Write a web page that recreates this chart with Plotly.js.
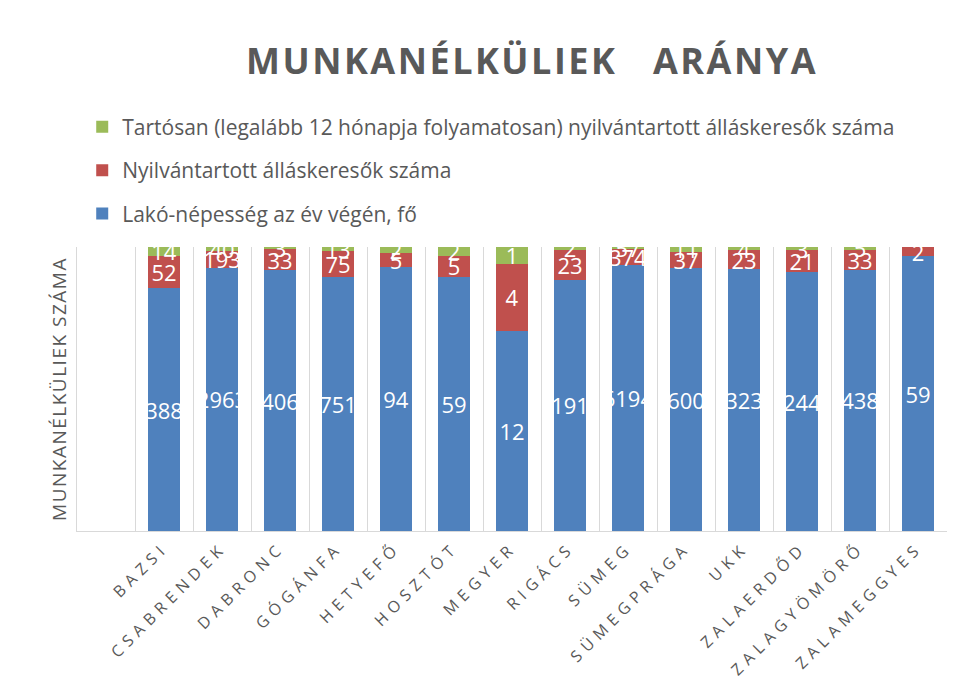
<!DOCTYPE html>
<html>
<head>
<meta charset="utf-8">
<script src="https://cdn.plot.ly/plotly-3.0.1.min.js"></script>
<style>
  html, body { margin: 0; padding: 0; background: #ffffff; }
  #chart { width: 959px; height: 699px; }
</style>
</head>
<body>
<div id="chart"></div>
<script>
// ---- data ----
const categories = ["BAZSI", "CSABRENDEK", "DABRONC", "GÓGÁNFA", "HETYEFŐ", "HOSZTÓT", "MEGYER",
  "RIGÁCS", "SÜMEG", "SÜMEGPRÁGA", "UKK", "ZALAERDŐD", "ZALAGYÖMÖRŐ", "ZALAMEGGYES"];
const population = [388, 2963, 406, 751, 94, 59, 12, 191, 6194, 600, 323, 244, 438, 59];
const registered = [52, 193, 33, 75, 5, 5, 4, 23, 374, 37, 23, 21, 33, 2];
const longTerm = [14, 40, 3, 13, 2, 2, 1, 2, 57, 11, 4, 3, 5, 0];

const seriesNames = [
  "Lakó-népesség az év végén, fő",
  "Nyilvántartott álláskeresők száma",
  "Tartósan (legalább 12 hónapja folyamatosan) nyilvántartott álláskeresők száma"
];
const seriesColors = ["#4F81BD", "#C0504D", "#9BBB59"];
const seriesValues = [population, registered, longTerm];

const labelFont = { family: "Open Sans, sans-serif", size: 22, color: "#ffffff" };

const traces = seriesValues.map((vals, i) => ({
  type: "bar",
  name: seriesNames[i],
  x: categories,
  y: vals,
  text: vals.map(v => String(v)),
  textposition: "inside",
  insidetextanchor: "middle",
  textangle: 0,
  constraintext: "none",
  insidetextfont: labelFont,
  textfont: labelFont,
  marker: { color: seriesColors[i], line: { width: 0 } },
  legendgroup: "g" + i,
  legendrank: 3 - i,
  hoverinfo: "x+y+name"
}));

const layout = {
  width: 959,
  height: 699,
  paper_bgcolor: "#ffffff",
  plot_bgcolor: "#ffffff",
  barmode: "stack",
  barnorm: "percent",
  bargap: 0.45,
  margin: { l: 77, r: 12, t: 247, b: 168 },
  font: { family: "Open Sans, sans-serif", color: "#595959" },
  title: {
    text: "MUNKANÉLKÜLIEK\u00A0\u00A0\u00A0ARÁNYA",
    font: { family: "Open Sans, sans-serif", size: 36, weight: "bold", color: "#595959" },
    x: 0.523,
    xref: "paper",
    xanchor: "center",
    y: 0.912,
    yref: "container",
    yanchor: "middle"
  },
  showlegend: true,
  legend: {
    x: 0.006,
    xanchor: "left",
    y: 1.494,
    yanchor: "top",
    orientation: "v",
    traceorder: "grouped",
    tracegroupgap: 13,
    font: { family: "Open Sans, sans-serif", size: 21, color: "#595959" },
    bgcolor: "rgba(0,0,0,0)"
  },
  xaxis: {
    type: "category",
    range: [-1.5, 13.5],
    tickson: "boundaries",
    showgrid: true,
    gridcolor: "#d9d9d9",
    gridwidth: 1,
    showline: true,
    linecolor: "#d9d9d9",
    linewidth: 1,
    ticks: "",
    tickangle: -45,
    tickfont: { family: "Open Sans, sans-serif", size: 16, color: "#595959" },
    automargin: false,
    fixedrange: true
  },
  yaxis: {
    range: [0, 100],
    showticklabels: false,
    showgrid: false,
    zeroline: false,
    showline: true,
    linecolor: "#d9d9d9",
    linewidth: 1,
    ticks: "",
    title: {
      text: "MUNKANÉLKÜLIEK SZÁMA",
      font: { family: "Open Sans, sans-serif", size: 19, color: "#595959" },
      standoff: 4
    },
    automargin: false,
    fixedrange: true
  }
};

Plotly.newPlot("chart", traces, layout, { displayModeBar: false, staticPlot: true }).then(gd => {
  const t = gd.querySelector(".gtitle");
  if (t) t.style.letterSpacing = "2.5px";
  const yt = gd.querySelector(".ytitle");
  if (yt) yt.style.letterSpacing = "1.5px";
  gd.querySelectorAll(".xtick text").forEach(el => { el.style.letterSpacing = "5.5px"; });
});
</script>
</body>
</html>
